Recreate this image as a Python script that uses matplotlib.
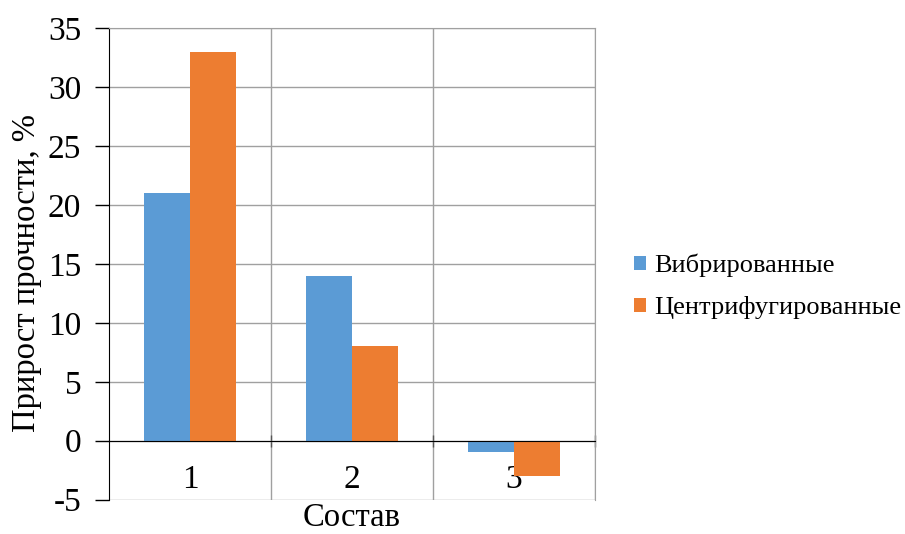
import matplotlib
matplotlib.use("Agg")
import matplotlib.pyplot as plt
import numpy as np

categories = ["1", "2", "3"]
series_names = ["Вибрированные", "Центрифугированные"]
vibrated = [21, 14, -1]
centrifuged = [33, 8, -3]
yticks = [-5, 0, 5, 10, 15, 20, 25, 30, 35]
colors = ["#5B9BD5", "#ED7D31"]

plt.rcParams['font.family'] = ['Liberation Serif', 'DejaVu Serif']

fig = plt.figure(figsize=(9.05, 5.34), dpi=100)
ax = fig.add_axes([109/905, 1 - 499.6/534, (595-109)/905, (499.6-28.3)/534])

x = np.arange(len(categories))
w = 0.287
ax.bar(x - w/2, vibrated, w, color=colors[0], label=series_names[0], zorder=3)
ax.bar(x + w/2, centrifuged, w, color=colors[1], label=series_names[1], zorder=3)

ax.set_xlim(-0.5, len(categories) - 0.5)
ax.set_ylim(yticks[0], yticks[-1])
ax.set_yticks(yticks)
ax.set_yticklabels([str(v) for v in yticks], fontsize=24)
ax.set_xticks(np.arange(len(categories)) + 0.5)
ax.set_xticklabels([])

ax.spines['bottom'].set_position(('data', 0))
ax.spines['bottom'].set_color('black')
ax.spines['bottom'].set_zorder(4)
ax.spines['left'].set_color('black')
ax.spines['top'].set_color('#a0a0a0')
ax.spines['right'].set_color('#a0a0a0')
ax.tick_params(axis='y', direction='out', length=10, width=1, pad=10, colors='black')
ax.tick_params(axis='x', direction='inout', length=8, width=1, colors='#555555')

ax.grid(True, axis='both', color='#a0a0a0', linewidth=1, zorder=0)
ax.set_axisbelow(True)

for i, c in enumerate(categories):
    ax.text(i, -4.0, c, ha='center', va='baseline', fontsize=24, zorder=2)

fig.text(27/905, 1 - 272.5/534, "Прирост прочности, %", rotation=90,
         ha='center', va='center', fontsize=23.5)
fig.text(352/905, 0.001, "Состав", ha='center', va='bottom', fontsize=23.5)

fig.legend(loc='center left', bbox_to_anchor=(634/905, 1 - 286.5/534), frameon=False,
           fontsize=19, handlelength=0.45, handleheight=0.45, handletextpad=0.3,
           labelspacing=0.72, borderpad=0, borderaxespad=0)

fig.savefig("out.png", dpi=100)
